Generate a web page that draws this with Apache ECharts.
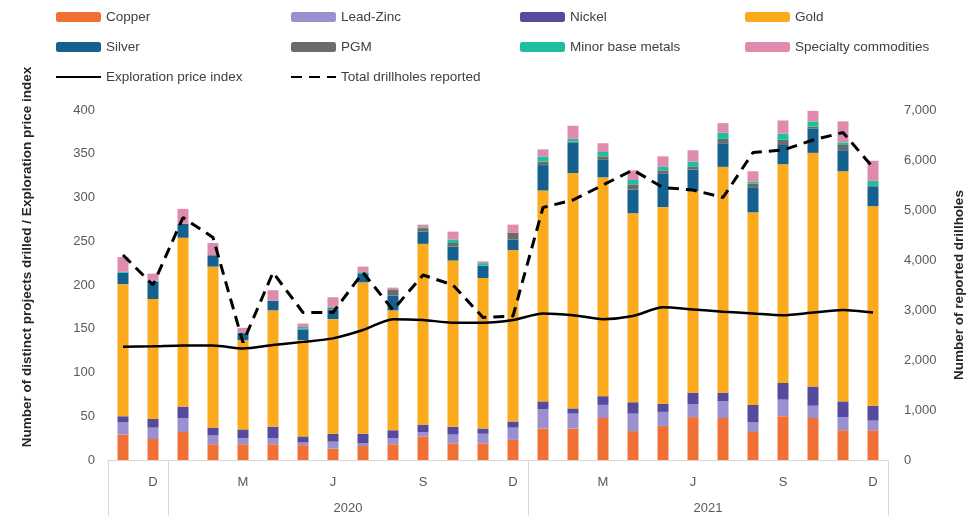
<!DOCTYPE html>
<html>
<head>
<meta charset="utf-8">
<script src="https://cdn.jsdelivr.net/npm/echarts@6/dist/echarts.min.js"></script>
<style>
  html, body { margin: 0; padding: 0; background: #fff; }
  #chart { width: 966px; height: 516px; }
</style>
</head>
<body>
<div id="chart"></div>
<script>
// Nov 2019 .. Dec 2021
var months = ['N', 'D',
  'J', 'F', 'M', 'A', 'M', 'J', 'J', 'A', 'S', 'O', 'N', 'D',
  'J', 'F', 'M', 'A', 'M', 'J', 'J', 'A', 'S', 'O', 'N', 'D']
var years = ['2019', '2020', '2021']
var monthsPerYear = [2, 12, 12]

var copper    = [29, 24, 32, 18, 18, 18, 17, 13, 16, 18, 27, 19, 19, 23, 36, 36, 48, 33, 39, 49, 48, 32, 50, 48, 34, 34]
var leadZinc  = [14, 13, 16, 10, 7, 7, 3, 8, 3, 7, 5, 10, 11, 14, 22, 17, 15, 20, 16, 15, 19, 11, 19, 14, 15, 11]
var nickel    = [7, 10, 13, 9, 10, 13, 7, 9, 11, 9, 8, 9, 6, 7, 9, 6, 10, 13, 9, 13, 10, 20, 19, 22, 18, 17]
var gold      = [151, 137, 193, 184, 102, 133, 110, 131, 173, 137, 207, 190, 172, 196, 241, 269, 250, 216, 225, 230, 258, 220, 250, 267, 263, 228]
var silver    = [13, 20, 16, 13, 8, 11, 12, 11, 10, 17, 14, 16, 14, 12, 29, 35, 20, 27, 38, 25, 27, 28, 22, 28, 24, 22]
var pgm       = [0, 0, 0, 0, 0, 0, 1, 2, 1, 7, 4, 4, 0, 8, 4, 1, 4, 6, 4, 3, 5, 5, 6, 2, 6, 1]
var minorBase = [1, 1, 0, 0, 1, 0, 2, 1, 1, 0, 1, 4, 3, 0, 6, 3, 5, 5, 4, 6, 7, 2, 7, 6, 3, 6]
var specialty = [17, 8, 17, 14, 5, 12, 4, 11, 6, 2, 3, 9, 2, 9, 8, 15, 10, 11, 12, 13, 11, 12, 15, 12, 24, 23]

var priceIndex = [129.5, 130, 131, 131, 127.5, 131.5, 135, 139, 148.5, 161, 160, 157, 157, 160, 167.5,
  165.5, 161, 164.5, 174.5, 172, 169.5, 167.5, 165.5, 168.5, 171.5, 168.5]
var drillholes = [4100, 3500, 4850, 4450, 2350, 3750, 2950, 2950, 3750, 3000, 3700, 3500, 2850, 2880, 5050,
  5200, 5500, 5800, 5450, 5400, 5250, 6150, 6200, 6400, 6550, 5850]

var stacks = [
  ['Copper', copper, '#F07036'],
  ['Lead-Zinc', leadZinc, '#9A90D0'],
  ['Nickel', nickel, '#554A9E'],
  ['Gold', gold, '#FBAA1B'],
  ['Silver', silver, '#14608F'],
  ['PGM', pgm, '#6B6B6B'],
  ['Minor base metals', minorBase, '#1DBF9F'],
  ['Specialty commodities', specialty, '#DE8BAE']
]
var lineNames = ['Exploration price index', 'Total drillholes reported']

// year boundaries and label positions on the month scale
var yearBounds = [0]
var yearMids = []
var yearMidNames = {}
var acc = 0
monthsPerYear.forEach(function (n, i) {
  if (n >= 3) {
    yearMids.push(acc + n / 2)
    yearMidNames[acc + n / 2] = years[i]
  }
  acc += n
  yearBounds.push(acc)
})

var font = 'Liberation Sans'
var labelColor = '#595959'

var series = stacks.map(function (s) {
  return {
    name: s[0], type: 'bar', stack: 'projects', data: s[1],
    barWidth: 11, itemStyle: { color: s[2] }
  }
})
series.push({
  name: lineNames[0], type: 'line', data: priceIndex,
  symbol: 'none', smooth: 0.25, z: 5,
  lineStyle: { color: '#000', width: 2.5 }, itemStyle: { color: '#000' }
})
series.push({
  name: lineNames[1], type: 'line', data: drillholes, yAxisIndex: 1,
  symbol: 'none', z: 6,
  lineStyle: { color: '#000', width: 3, type: [11, 7] }, itemStyle: { color: '#000' }
})

function legendCol(names, left) {
  return {
    data: names.map(function (n) {
      // hide the marker dot on line legend items
      return lineNames.indexOf(n) >= 0 ? { name: n, itemStyle: { opacity: 0 } } : n
    }),
    orient: 'vertical', left: left, top: 10, padding: 0,
    itemWidth: 45, itemHeight: 10, itemGap: 16,
    textStyle: { fontFamily: font, fontSize: 13.5, color: '#404040' },
    selectedMode: false
  }
}

var option = {
  animation: false,
  textStyle: { fontFamily: font },
  legend: [
    legendCol(['Copper', 'Silver', lineNames[0]], 55),
    legendCol(['Lead-Zinc', 'PGM', lineNames[1]], 290),
    legendCol(['Nickel', 'Minor base metals'], 520),
    legendCol(['Gold', 'Specialty commodities'], 745)
  ],
  grid: { left: 108, right: 78, top: 110, bottom: 56, outerBoundsMode: 'none' },
  xAxis: [
    {
      type: 'category', data: months,
      axisLine: { lineStyle: { color: '#D9D9D9' } },
      axisTick: { show: false },
      axisLabel: {
        color: labelColor, fontSize: 13, margin: 16,
        interval: function (i) { return (i - 1) % 3 === 0 }
      }
    },
    {
      type: 'value', min: 0, max: months.length, position: 'bottom',
      axisLine: { show: false },
      splitLine: { show: false },
      axisTick: { show: true, customValues: yearBounds, length: 56, lineStyle: { color: '#D9D9D9' } },
      axisLabel: {
        customValues: yearMids, color: labelColor, fontSize: 13, margin: 42,
        formatter: function (v) { return yearMidNames[v] || '' }
      }
    }
  ],
  yAxis: [
    {
      type: 'value', min: 0, max: 400, interval: 50,
      splitLine: { show: false },
      axisLine: { show: false },
      axisTick: { show: false },
      axisLabel: { color: labelColor, fontSize: 13, margin: 13 },
      name: 'Number of distinct projects drilled / Exploration price index',
      nameLocation: 'middle', nameRotate: 90, nameGap: 74,
      nameTextStyle: { fontWeight: 'bold', fontSize: 13.5, color: '#262626', padding: [0, 0, 0, 56] }
    },
    {
      type: 'value', min: 0, max: 7000, interval: 1000,
      splitLine: { show: false },
      axisLine: { show: false },
      axisTick: { show: false },
      axisLabel: {
        color: labelColor, fontSize: 13, margin: 16,
        formatter: function (v) { return v.toLocaleString('en-US') }
      },
      name: 'Number of reported drillholes',
      nameLocation: 'middle', nameRotate: 90, nameGap: 64,
      nameTextStyle: { fontWeight: 'bold', fontSize: 13.5, color: '#262626' }
    }
  ],
  series: series
}

var chart = echarts.init(document.getElementById('chart'))
chart.setOption(option)
</script>
</body>
</html>
